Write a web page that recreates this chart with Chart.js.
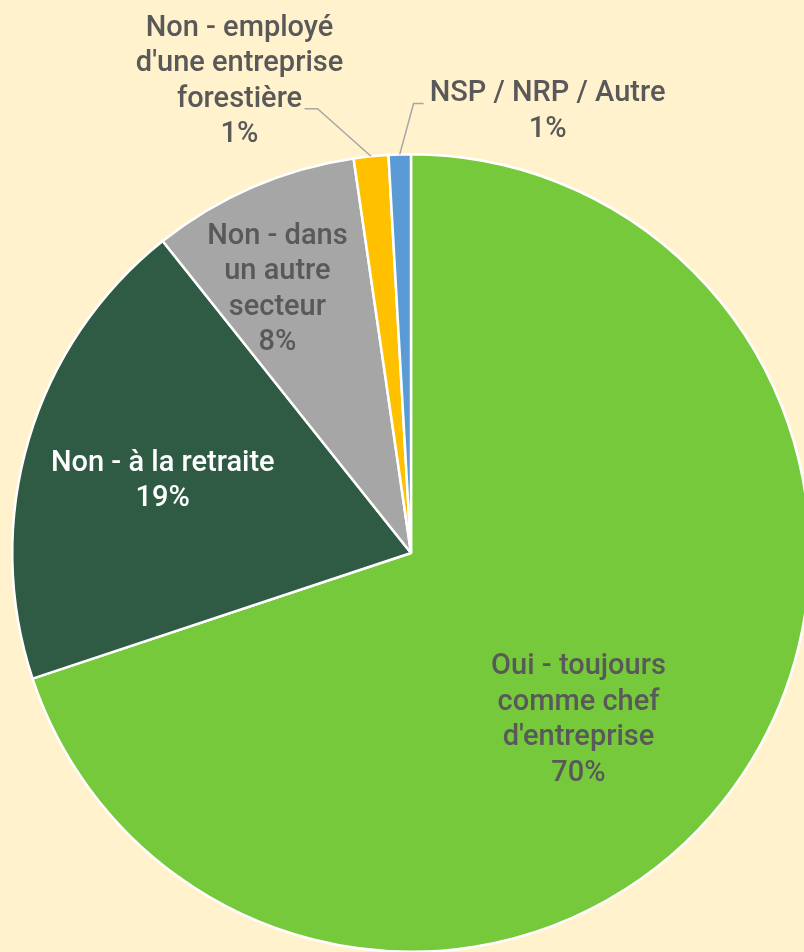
<!DOCTYPE html>
<html>
<head>
<meta charset="utf-8">
<script src="https://cdn.jsdelivr.net/npm/chart.js@4/dist/chart.umd.min.js"></script>
<style>
    html, body { margin: 0; padding: 0; background: #FFF2CC; overflow: hidden; }
    #wrap { width: 830px; height: 960px; }
</style>
</head>
<body>
<div id="wrap"><canvas id="pieChart" width="830" height="960"></canvas></div>
<script>
// Categories (one line per array entry) and values
const categories = [
    ['Oui - toujours', 'comme chef', "d'entreprise"],
    ['Non - à la retraite'],
    ['Non - dans', 'un autre', 'secteur'],
    ['Non - employé', "d'une entreprise", 'forestière'],
    ['NSP / NRP / Autre']
];
const shares = [69.9, 19.4, 8.4, 1.4, 0.9];
const percentLabels = ['70%', '19%', '8%', '1%', '1%'];
const sliceColors = ['#76C93A', '#2F5B44', '#A6A6A6', '#FFC000', '#5B9BD5'];
const textColors = ['#595959', '#FFFFFF', '#595959', '#595959', '#595959'];

// label centre, as a fraction of the radius from the pie centre
const labelPlacement = [
    { x: 0.42, y: 0.42 },
    { x: -0.6225, y: -0.18 },
    { x: -0.335, y: -0.66 },
    { x: -0.43, y: -1.182 },
    { x: 0.3425, y: -1.107 }
];
// leader lines for outside labels: start + elbow offsets (px) from label centre
const leaders = [null, null, null,
    { sx: 65, sy: 27, ex: 78, ey: 27 },
    { sx: -124, sy: -8, ex: -134, ey: -8 }
];

const pieLabels = {
    id: 'pieLabels',
    afterDatasetsDraw(chart) {
        const ctx = chart.ctx;
        const meta = chart.getDatasetMeta(0);
        const lineH = 35.5;
        ctx.save();
        ctx.font = '500 29px Roboto';
        ctx.textAlign = 'center';
        ctx.textBaseline = 'middle';
        meta.data.forEach((arc, i) => {
            const r = arc.outerRadius;
            const cx = arc.x + labelPlacement[i].x * r;
            const cy = arc.y + labelPlacement[i].y * r;
            const lines = categories[i].concat([percentLabels[i]]);
            const top = cy - (lines.length - 1) * lineH / 2;
            ctx.fillStyle = textColors[i];
            lines.forEach((t, k) => ctx.fillText(t, cx, top + k * lineH));
            const ld = leaders[i];
            if (ld) {
                const mid = (arc.startAngle + arc.endAngle) / 2;
                ctx.strokeStyle = '#A6A6A6';
                ctx.lineWidth = 1.5;
                ctx.beginPath();
                ctx.moveTo(cx + ld.sx, cy + ld.sy);
                ctx.lineTo(cx + ld.ex, cy + ld.ey);
                ctx.lineTo(arc.x + Math.cos(mid) * r, arc.y + Math.sin(mid) * r);
                ctx.stroke();
            }
        });
        ctx.restore();
    }
};

const ctx = document.getElementById('pieChart').getContext('2d');
new Chart(ctx, {
    type: 'pie',
    data: {
        labels: categories.map(c => c.join(' ')),
        datasets: [{
            data: shares,
            backgroundColor: sliceColors,
            borderColor: '#FFFFFF',
            borderWidth: 2.5
        }]
    },
    options: {
        responsive: false,
        animation: false,
        layout: { padding: { left: 11, top: 153, right: 19, bottom: 7 } },
        plugins: {
            legend: { display: false },
            tooltip: { enabled: false }
        }
    },
    plugins: [pieLabels]
});
</script>
</body>
</html>
